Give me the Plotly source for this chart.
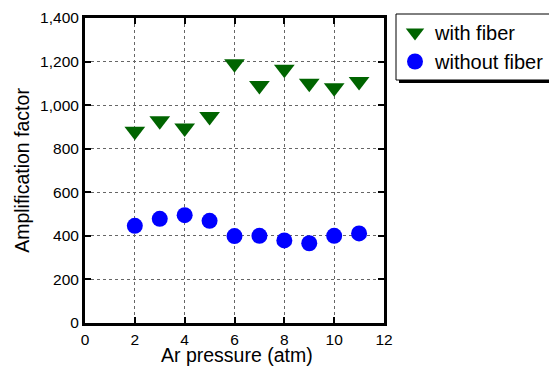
import plotly.graph_objects as go

pressure = [2, 3, 4, 5, 6, 7, 8, 9, 10, 11]
with_fiber = [880, 928, 895, 948, 1190, 1090, 1165, 1100, 1080, 1108]
without_fiber = [446, 478, 495, 469, 399, 400, 379, 366, 400, 411]
x_title = "Ar pressure (atm)"
y_title = "Amplification factor"

# page body has an 8px default margin; compensate so the figure fills the window
OFF = 8
W, H = 557 - OFF, 367 - OFF

fig = go.Figure()
fig.add_trace(go.Scatter(x=pressure, y=with_fiber, mode="markers", name="with fiber",
                         marker=dict(symbol="triangle-down", size=18, color="#006400")))
fig.add_trace(go.Scatter(x=pressure, y=without_fiber, mode="markers", name="without fiber",
                         marker=dict(symbol="circle", size=16, color="#0000FF")))

font = "Arial, Liberation Sans, sans-serif"
axis_common = dict(showline=True, linecolor="black", linewidth=3, mirror="ticks",
                   ticks="inside", ticklen=6, tickwidth=2, tickcolor="black",
                   showgrid=True, gridcolor="#666666", gridwidth=1, griddash="dot",
                   zeroline=False, automargin=False,
                   tickfont=dict(size=15.5, color="black", family=font))
fig.update_xaxes(range=[0, 12], dtick=2, **axis_common)
fig.update_yaxes(range=[0, 1400], dtick=200, tickformat=",",
                 title=dict(text=y_title, font=dict(size=19.5, color="black", family=font), standoff=6),
                 **axis_common)

fig.update_layout(
    width=W, height=H,
    margin=dict(l=85 - OFF, r=W - (85 - OFF) - 299, t=18 - OFF, b=H - (18 - OFF) - 305),
    plot_bgcolor="white", paper_bgcolor="white",
    font=dict(family=font, color="black"),
    legend=dict(xref="container", yref="container", x=(395 - OFF) / W, y=(H - (13 - OFF)) / H,
                xanchor="left", yanchor="top",
                bgcolor="rgba(0,0,0,0)", borderwidth=0,
                font=dict(size=20, color="black", family=font), itemsizing="trace",
                tracegroupgap=0),
    showlegend=True,
)

def px_x(p):
    return (p - 85) / 299

def px_y(p):
    return (323 - p) / 305

# x-axis title
fig.add_annotation(text=x_title, xref="paper", yref="paper", x=px_x(237), y=px_y(355),
                   xanchor="center", yanchor="middle", showarrow=False, borderpad=0,
                   font=dict(size=19.5, color="black", family=font))

# legend shadow and box
fig.add_shape(type="rect", xref="paper", yref="paper",
              x0=px_x(399), x1=px_x(570), y0=px_y(83), y1=px_y(17),
              fillcolor="black", line=dict(width=0), layer="above")
fig.add_shape(type="rect", xref="paper", yref="paper",
              x0=px_x(396), x1=px_x(570), y0=px_y(80), y1=px_y(14),
              fillcolor="white", line=dict(width=1, color="black"), layer="above")
fig.write_html("out.html")
